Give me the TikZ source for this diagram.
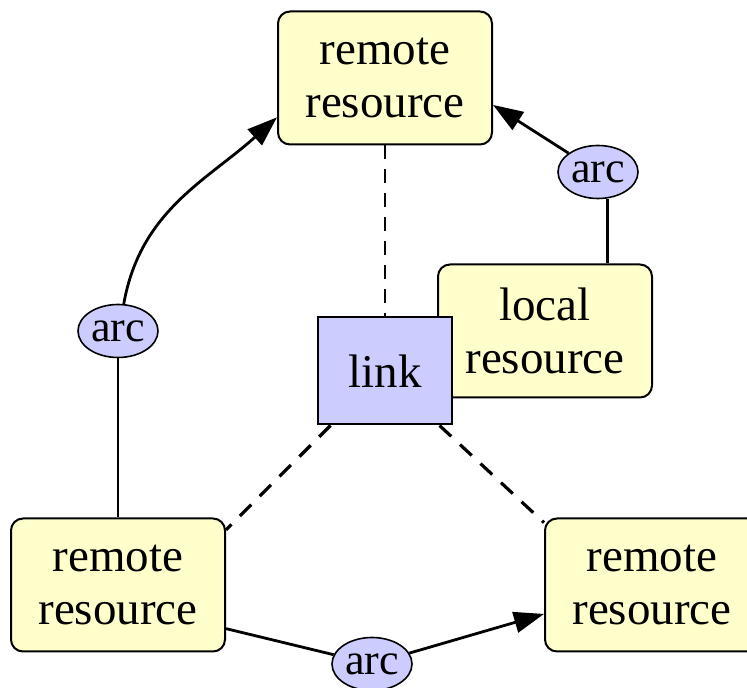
\documentclass[tikz,border=0pt]{standalone}
\usepackage{fontspec}
\setmainfont{Liberation Serif}
\usetikzlibrary{arrows.meta,shapes.geometric}
\definecolor{resyellow}{HTML}{FFFFCC}
\definecolor{linkblue}{HTML}{CCCCFF}
\begin{document}
\begin{tikzpicture}[x=1pt,y=1pt,
  resbox/.style={draw=black,line width=2pt,fill=resyellow,rounded corners=12pt,
    minimum width=214pt,minimum height=133pt,align=center,inner sep=0pt,
    font=\fontsize{47}{53}\selectfont},
  linkbox/.style={draw=black,line width=2pt,fill=linkblue,
    minimum width=134pt,minimum height=107pt,inner sep=0pt,
    font=\fontsize{47}{53}\selectfont},
  arcnode/.style={ellipse,draw=black,line width=1.6pt,fill=linkblue,
    minimum width=80pt,minimum height=53pt,inner sep=0pt,
    font=\fontsize{44}{50}\selectfont},
  conn/.style={draw=black,line width=2.8pt},
  arrowconn/.style={conn,-{Triangle[length=30pt,width=21pt]}},
  thindash/.style={draw=black,line width=1.6pt,dash pattern=on 14pt off 10pt},
  thickdash/.style={draw=black,line width=3.2pt,dash pattern=on 16pt off 12pt}]
\useasboundingbox (0,0) rectangle (747,688);
\clip (0,0) rectangle (747,688);
% nodes
\node[resbox] (top) at (385,610) {remote\\resource};
\node[resbox] (local) at (545,357) {local\\resource};
\node[linkbox] (link) at (385,317) {link};
\node[resbox] (bl) at (118,103) {remote\\resource};
\node[resbox] (br) at (652,103) {remote\\resource};
\node[arcnode] (arcl) at (118,357) {arc};
\node[arcnode] (arcr) at (598,516) {arc};
\node[arcnode] (arcb) at (372,24) {arc};
% dashed links
\draw[thindash] (top.south) -- (link.north);
\draw[thickdash] (link.225) -- (bl.27);
\draw[thickdash] (link.315) -- (br.150);
% arcs
\draw[conn] (bl.north) -- (arcl.south);
\draw[arrowconn] (arcl.78) to[out=80,in=222] (top.200);
\draw[conn] (arcr.290) -- (arcr.290 |- local.north);
\draw[arrowconn] (arcr) -- (top.346);
\draw[conn] (bl.338) -- (arcb);
\draw[arrowconn] (arcb) -- (br.195);
\end{tikzpicture}
\end{document}
